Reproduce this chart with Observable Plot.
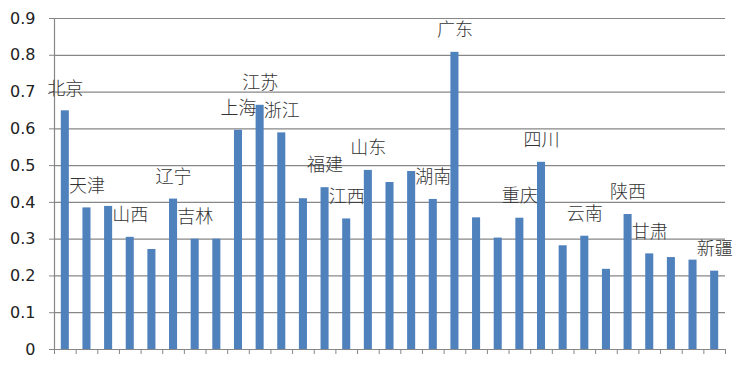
<!DOCTYPE html>
<html>
<head>
<meta charset="utf-8">
<script src="https://cdn.jsdelivr.net/npm/d3@7"></script>
<script src="https://cdn.jsdelivr.net/npm/@observablehq/plot@0.6"></script>
<style>
  html, body { margin: 0; padding: 0; background: #fff; }
  #chart svg { display: block; }
</style>
</head>
<body>
<div id="chart"></div>
<script>
const provinces = ["北京","天津","河北","山西","内蒙古","辽宁","吉林","黑龙江","上海","江苏","浙江","安徽","福建","江西","山东","河南","湖北","湖南","广东","广西","海南","重庆","四川","贵州","云南","西藏","陕西","甘肃","青海","宁夏","新疆"];
const values = [0.649,0.385,0.389,0.305,0.272,0.409,0.300,0.300,0.596,0.664,0.589,0.410,0.440,0.355,0.487,0.454,0.484,0.408,0.808,0.358,0.303,0.357,0.509,0.282,0.308,0.218,0.367,0.260,0.250,0.243,0.213];
const labelled = ["北京","天津","山西","辽宁","吉林","上海","江苏","浙江","福建","江西","山东","湖南","广东","重庆","四川","云南","陕西","甘肃","新疆"];
const yTicks = [0,0.1,0.2,0.3,0.4,0.5,0.6,0.7,0.8,0.9];

const data = provinces.map((name, i) => ({name, i, value: values[i]}));
const labels = data.filter(d => labelled.includes(d.name));
const boundaries = d3.range(provinces.length + 1);

const chart = Plot.plot({
  width: 742,
  height: 368,
  marginLeft: 54,
  marginRight: 17,
  marginTop: 18,
  marginBottom: 19,
  style: {background: "#fff", overflow: "visible"},
  x: {domain: [0, provinces.length], axis: null},
  y: {domain: [0, 0.9], axis: null},
  marks: [
    Plot.gridY(yTicks, {stroke: "#878787", strokeOpacity: 1, strokeWidth: 1.2}),
    Plot.axisY(yTicks, {
      label: null,
      tickSize: 5, tickPadding: 14, stroke: "#878787",
      tickFormat: d => d === 0 ? "0" : d.toFixed(1),
      fontSize: 16, fontFamily: "DejaVu Sans", fill: "#222"
    }),
    Plot.ruleX([0], {y1: 0, y2: 0.9, stroke: "#878787", strokeWidth: 1.2}),
    Plot.axisX(boundaries, {label: null, tickSize: 5, tickFormat: () => "", stroke: "#878787"}),
    Plot.rectY(data, {x1: "i", x2: d => d.i + 1, y: "value", fill: "#4F81BD", insetLeft: 6.8, insetRight: 6.8}),
    Plot.text(labels, {
      x: d => d.i + 0.5, y: "value", text: "name", dy: -22,
      fontSize: 18, fontFamily: "Noto Sans CJK SC", fontWeight: 300, fill: "#333"
    })
  ]
});
document.getElementById("chart").append(chart);
</script>
</body>
</html>
